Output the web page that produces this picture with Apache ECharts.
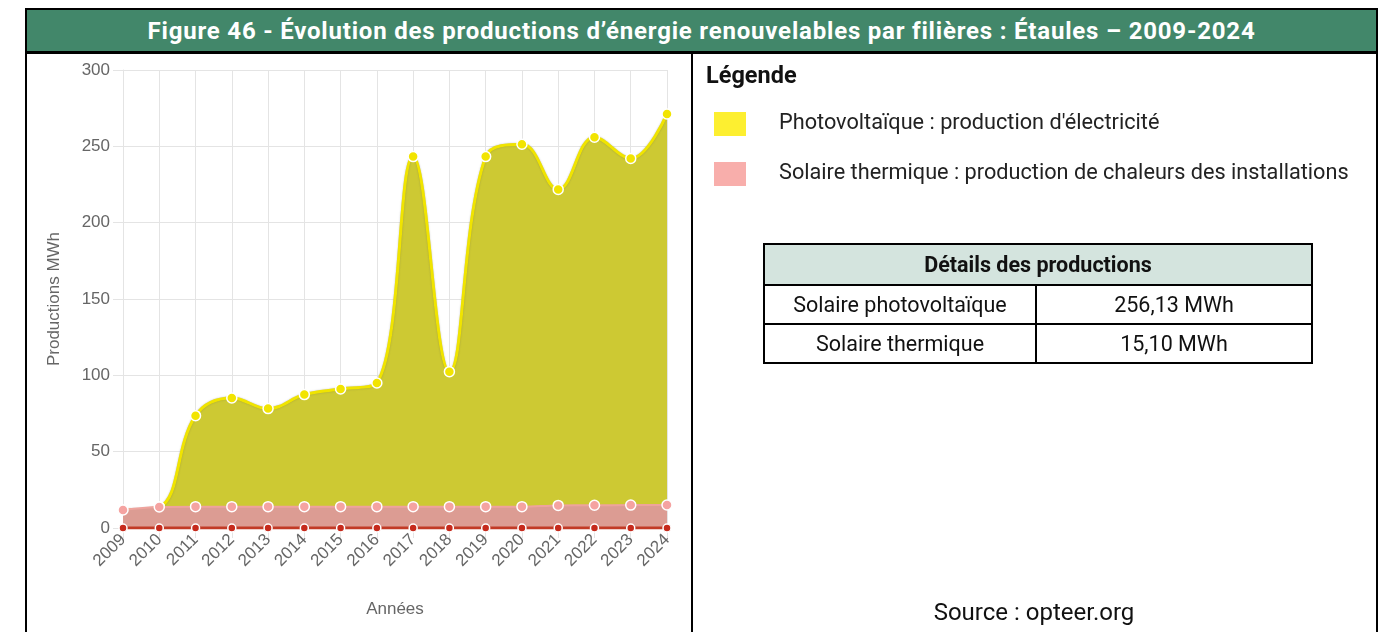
<!DOCTYPE html>
<html lang="fr">
<head>
<meta charset="utf-8">
<title>Étaules – productions d'énergie renouvelables</title>
<script src="https://cdn.jsdelivr.net/npm/echarts@6/dist/echarts.min.js"></script>
<style>
  html, body { margin: 0; padding: 0; background: #fff; }
  body { width: 1386px; height: 632px; position: relative; overflow: hidden; font-family: Roboto, "Liberation Sans", sans-serif; }
  #chart { position: absolute; left: 0; top: 0; width: 1386px; height: 632px; }
  .line { position: absolute; background: #000; }
  #header {
    position: absolute; left: 25px; top: 8px; width: 1353px; height: 46px;
    background: #42876a; color: #fff; font-weight: 700; font-size: 24px;
    box-sizing: border-box; border: 2px solid #000; border-bottom: 3px solid #000;
    display: flex; align-items: center; justify-content: center; letter-spacing: 0.8px;
  }
  #legend-title { position: absolute; left: 706px; top: 61px; font-size: 23.5px; font-weight: 700; color: #111; }
  table#details {
    position: absolute; left: 763px; top: 243px; width: 550px; border-collapse: collapse;
    font-size: 21.5px; color: #111;
  }
  #details td, #details th { border: 2px solid #000; text-align: center; padding: 0; }
  #details th { background: #d4e4de; height: 39px; font-weight: 700; }
  #details td { height: 37px; }
  #source { position: absolute; left: 834px; width: 400px; top: 598px; text-align: center; font-size: 24px; color: #111; }
</style>
</head>
<body>
<div id="chart"></div>
<div id="header">Figure 46 - Évolution des productions d’énergie renouvelables par filières : Étaules – 2009-2024</div>
<div class="line" style="left:25px;top:54px;width:2px;height:578px"></div>
<div class="line" style="left:691px;top:54px;width:2px;height:578px"></div>
<div class="line" style="left:1376px;top:54px;width:2px;height:578px"></div>
<div id="legend-title">Légende</div>
<table id="details">
  <tr><th colspan="2">Détails des productions</th></tr>
  <tr><td style="width:270px">Solaire photovoltaïque</td><td id="v-pv"></td></tr>
  <tr><td>Solaire thermique</td><td id="v-th"></td></tr>
</table>
<div id="source">Source : opteer.org</div>

<script>
// Années
const years = ['2009','2010','2011','2012','2013','2014','2015','2016','2017','2018','2019','2020','2021','2022','2023','2024'];
// Solaire thermique : production de chaleur (MWh)
const thermal = [11.8, 13.8, 14.0, 14.0, 14.0, 14.0, 14.0, 14.0, 14.0, 14.0, 14.0, 14.0, 14.8, 14.9, 15.0, 15.10];
// Photovoltaïque : production d'électricité (MWh)
const photovoltaic = [0, 0, 59.6, 71.2, 64.2, 73.4, 77.1, 81.0, 229.3, 88.4, 229.3, 237.4, 207.0, 241.1, 227.0, 256.13];
// Autres filières (aucune production)
const others = [0, 0, 0, 0, 0, 0, 0, 0, 0, 0, 0, 0, 0, 0, 0, 0];
// Graduations de l'axe vertical
const yTicks = [0, 50, 100, 150, 200, 250, 300];

const PV_NAME = "Photovoltaïque : production d'électricité";
const TH_NAME = 'Solaire thermique : production de chaleurs des installations';

const fmt = v => v.toFixed(2).replace('.', ',') + ' MWh';
document.getElementById('v-pv').textContent = fmt(photovoltaic[photovoltaic.length - 1]);
document.getElementById('v-th').textContent = fmt(thermal[thermal.length - 1]);

const axisText = { color: '#666', fontSize: 17, fontFamily: '"Liberation Sans", Arial, sans-serif' };
const gridColor = '#e4e4e4';

const chart = echarts.init(document.getElementById('chart'), null, { renderer: 'canvas' });
chart.setOption({
  animation: false,
  legend: {
    orient: 'vertical',
    left: 714, top: 112, padding: 0,
    itemWidth: 32, itemHeight: 24, itemGap: 26,
    icon: 'rect',
    selectedMode: false,
    textStyle: { fontSize: 21.7, color: '#222', fontFamily: 'Roboto, sans-serif', padding: [0, 0, 0, 28] },
    data: [
      { name: PV_NAME, itemStyle: { color: '#fdef30', borderWidth: 0 }, lineStyle: { opacity: 0 } },
      { name: TH_NAME, itemStyle: { color: '#f8aeab', borderWidth: 0 }, lineStyle: { opacity: 0 } }
    ]
  },
  grid: { left: 123, right: 719, top: 70, bottom: 104, containLabel: false },
  xAxis: {
    type: 'category',
    data: years,
    boundaryGap: false,
    name: 'Années',
    nameLocation: 'middle',
    nameGap: 73,
    nameTextStyle: axisText,
    axisLine: { show: true, lineStyle: { color: gridColor } },
    axisTick: { show: true, length: 10, lineStyle: { color: gridColor } },
    axisLabel: Object.assign({ rotate: 45, margin: 9, interval: 0 }, axisText),
    splitLine: { show: true, lineStyle: { color: gridColor } }
  },
  yAxis: {
    type: 'value',
    min: yTicks[0], max: yTicks[yTicks.length - 1], interval: yTicks[1] - yTicks[0],
    name: 'Productions MWh',
    nameLocation: 'middle',
    nameGap: 60,
    nameTextStyle: axisText,
    axisLine: { show: true, lineStyle: { color: gridColor } },
    axisTick: { show: true, length: 10, lineStyle: { color: gridColor } },
    axisLabel: Object.assign({ margin: 13 }, axisText),
    splitLine: { show: true, lineStyle: { color: gridColor } }
  },
  series: [
    {
      name: 'Autres',
      type: 'line', stack: 'total', data: others, smooth: 0.4, z: 4,
      symbol: 'circle', symbolSize: 8, showSymbol: true,
      lineStyle: { color: '#c23a26', width: 3 },
      itemStyle: { color: '#c62a1c', borderColor: '#fff', borderWidth: 1.5 }
    },
    {
      name: TH_NAME,
      type: 'line', stack: 'total', data: thermal, smooth: 0.4, z: 3,
      symbol: 'circle', symbolSize: 10, showSymbol: true,
      lineStyle: { color: '#eea39d', width: 2 },
      areaStyle: { color: '#dc9c93', opacity: 1 },
      itemStyle: { color: '#f5a3a1', borderColor: '#fff', borderWidth: 1.5 }
    },
    {
      name: PV_NAME,
      type: 'line', stack: 'total', data: photovoltaic, smooth: 0.4, z: 2,
      symbol: 'circle', symbolSize: 10, showSymbol: true,
      lineStyle: { color: '#f0e400', width: 3, shadowColor: 'rgba(90,90,90,0.45)', shadowBlur: 1.5 },
      areaStyle: { color: '#cdc933', opacity: 1 },
      itemStyle: { color: '#f2e400', borderColor: '#fff', borderWidth: 1.5 }
    }
  ]
});
</script>
</body>
</html>
